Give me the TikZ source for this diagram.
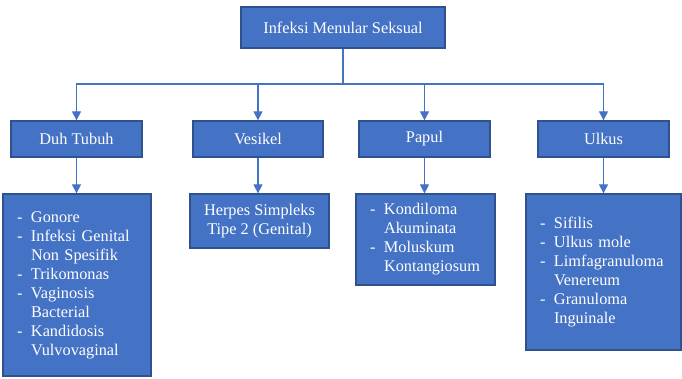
\documentclass[tikz,border=0pt]{standalone}
\usepackage{fontspec}
\setmainfont{Liberation Serif}
\usetikzlibrary{arrows.meta}
\definecolor{boxblue}{HTML}{4472C4}
\definecolor{boxline}{HTML}{2F528F}

\begin{document}
\begin{tikzpicture}[
  x=1pt, y=-1pt,
  font=\fontsize{16.3}{19}\selectfont,
  box/.style={draw=boxline, line width=1.3pt, fill=boxblue, text=white, align=center,
              inner sep=2pt},
  lst/.style={box, align=left, inner xsep=14pt},
  edge/.style={draw=boxblue, line width=1.2pt},
  arr/.style={edge, -{Triangle[length=9pt,width=9pt]}}
]
\useasboundingbox (0,0) rectangle (682,378);
\node[box, minimum width=204pt, minimum height=41pt] (ims) at (343,27.5) {Infeksi Menular Seksual};
\node[box, minimum width=131pt, minimum height=36pt] (duh) at (76.5,139) {Duh Tubuh};
\node[box, minimum width=130pt, minimum height=36pt] (ves) at (258,139) {Vesikel};
\node[box, minimum width=131pt, minimum height=36pt] (pap) at (424.5,139) {Papul};
\node[box, minimum width=131pt, minimum height=36pt] (ulk) at (603.5,139) {Ulkus};
\node[lst, text width=120pt, minimum height=182pt] (duhlist) at (77,285)
  {\makebox[14pt][l]{-}Gonore\\
   \makebox[14pt][l]{-}Infeksi Genital\\
   \hspace*{14pt}Non Spesifik\\
   \makebox[14pt][l]{-}Trikomonas\\
   \makebox[14pt][l]{-}Vaginosis\\
   \hspace*{14pt}Bacterial\\
   \makebox[14pt][l]{-}Kandidosis\\
   \hspace*{14pt}Vulvovaginal};
\node[box, minimum width=139pt, minimum height=54pt] (veslist) at (259.5,221)
  {Herpes Simpleks\\Tipe 2 (Genital)};
\node[lst, text width=111pt, minimum height=91pt] (paplist) at (425.5,239.5)
  {\makebox[14pt][l]{-}Kondiloma\\
   \hspace*{14pt}Akuminata\\
   \makebox[14pt][l]{-}Moluskum\\
   \hspace*{14pt}Kontangiosum};
\node[lst, text width=127pt, minimum height=156pt] (ulklist) at (603.5,272)
  {\makebox[14pt][l]{-}Sifilis\\
   \makebox[14pt][l]{-}Ulkus mole\\
   \makebox[14pt][l]{-}Limfagranuloma\\
   \hspace*{14pt}Venereum\\
   \makebox[14pt][l]{-}Granuloma\\
   \hspace*{14pt}Inguinale};
% tree connectors
\coordinate (split) at (343,84);
\draw[edge] (ims) -- (split);
\draw[arr] (split) -| (duh);
\draw[arr] (split) -| (ves);
\draw[arr] (split) -| (pap);
\draw[arr] (split) -| (ulk);
\draw[arr] (duh) -- (duh |- duhlist.north);
\draw[arr] (ves) -- (ves |- veslist.north);
\draw[arr] (pap) -- (pap |- paplist.north);
\draw[arr] (ulk) -- (ulk |- ulklist.north);
\end{tikzpicture}
\end{document}
